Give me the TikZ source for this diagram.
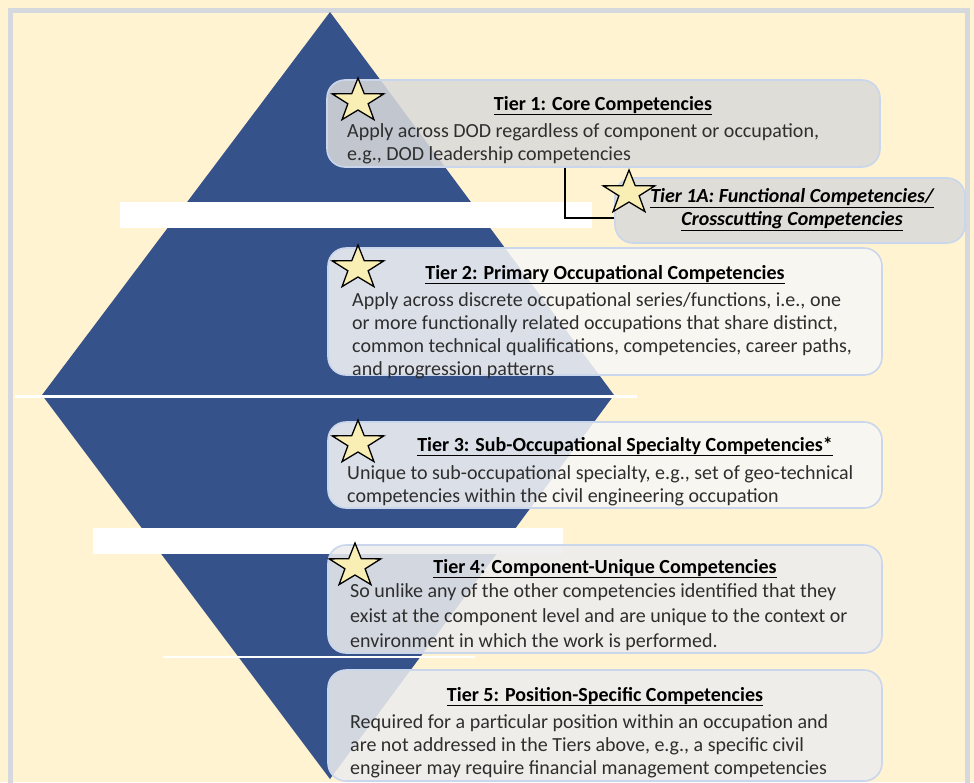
\documentclass[tikz,border=0pt]{standalone}
\usepackage{fontspec}
\setmainfont{Carlito}
\usetikzlibrary{shapes.geometric}

\definecolor{cream}{HTML}{FFF3D2}
\definecolor{framegrey}{HTML}{D5D9DD}
\definecolor{pyramid}{HTML}{36528A}
\definecolor{boxedge}{HTML}{C9D6EC}
\definecolor{greybox}{HTML}{DADADA}
\definecolor{lightbox}{HTML}{F7F7F7}
\definecolor{midbox}{HTML}{EDEDED}
\definecolor{starfill}{HTML}{F9EEB3}
\definecolor{bodytext}{HTML}{2E2E2E}

\tikzset{
  tierbox/.style={draw=boxedge, line width=1.6pt, rounded corners=18pt,
    fill opacity=0.86, inner sep=0pt},
  tiertitle/.style={font=\fontsize{20}{23}\selectfont\bfseries, text=black,
    inner sep=0pt, anchor=base},
  tierbody/.style={font=\fontsize{20}{23}\selectfont, text=bodytext,
    align=left, inner sep=0pt, anchor=north west},
  tierstar/.style={star, star points=5, star point ratio=2.55,
    minimum size=46pt, inner sep=0pt, draw=black, line width=1.3pt,
    fill=starfill, transform shape},
  starspot/.style={xscale=1.18},
  whiteband/.style={fill=white},
  link/.style={draw=black, line width=1.3pt}
}

\begin{document}
\begin{tikzpicture}[x=1pt, y=-1pt]
  % page and frame
  \fill[cream] (0,0) rectangle (974,782);
  \useasboundingbox (0,0) rectangle (974,782);
  \draw[framegrey, line width=4.5pt] (10.5,800) -- (10.5,10.5) -- (967.5,10.5) -- (967.5,800);

  % the pyramid diamond
  \fill[pyramid] (330,12) -- (614,395) -- (330,779) -- (42,395) -- cycle;

  % white separators across the diamond
  \fill[whiteband] (120,202) rectangle (592,228);
  \fill[whiteband] (15,394.5) rectangle (637,397.5);
  \fill[whiteband] (93,528) rectangle (563,554);
  \fill[whiteband] (163,655.8) rectangle (475,658.4);

  % tier boxes
  \node[tierbox, fill=greybox, minimum width=553pt, minimum height=87pt] (t1) at (603.5,123.5) {};
  \node[tierbox, fill=greybox, minimum width=350pt, minimum height=65pt] (t1a) at (790,210.5) {};
  \node[tierbox, fill=lightbox, minimum width=554pt, minimum height=127pt] (t2) at (605,311.5) {};
  \node[tierbox, fill=lightbox, minimum width=554pt, minimum height=86pt] (t3) at (605,465) {};
  \node[tierbox, fill=midbox, minimum width=554pt, minimum height=108pt] (t4) at (605,599) {};
  \node[tierbox, fill=midbox, minimum width=554pt, minimum height=111pt] (t5) at (605,725.5) {};

  % Tier 1 to Tier 1A connector
  \coordinate (bend) at (565,218);
  \draw[link] (t1.south -| bend) -- (bend) -- (bend -| t1a.west);

  % stars, slightly widened
  \begin{scope}[shift={(358,101)}, starspot] \node[tierstar] (s1) {}; \end{scope}
  \begin{scope}[shift={(629,193)}, starspot] \node[tierstar] (s1a) {}; \end{scope}
  \begin{scope}[shift={(358,268)}, starspot] \node[tierstar] (s2) {}; \end{scope}
  \begin{scope}[shift={(358,443)}, starspot] \node[tierstar] (s3) {}; \end{scope}
  \begin{scope}[shift={(355,566)}, starspot] \node[tierstar] (s4) {}; \end{scope}

  % texts
  \node[tiertitle] (h1) at (603,110) {\underline{Tier 1: Core Competencies}};
  \node[tierbody] (b1) at (347,123) {Apply across DOD regardless of component or occupation,\\e.g., DOD leadership competencies};

  \node[tiertitle, font=\fontsize{20}{23}\selectfont\bfseries\itshape, align=center, anchor=north] (h1a) at (792,188)
    {\underline{Tier 1A: Functional Competencies/}\\\underline{Crosscutting Competencies}};

  \node[tiertitle] (h2) at (605,279) {\underline{Tier 2: Primary Occupational Competencies}};
  \node[tierbody] (b2) at (352,292) {Apply across discrete occupational series/functions, i.e., one\\or more functionally related occupations that share distinct,\\common technical qualifications, competencies, career paths,\\and progression patterns};

  \node[tiertitle] (h3) at (625,451) {\underline{Tier 3: Sub-Occupational Specialty Competencies*}};
  \node[tierbody] (b3) at (347,465) {Unique to sub-occupational specialty, e.g., set of geo-technical\\competencies within the civil engineering occupation};

  \node[tiertitle] (h4) at (605,573) {\underline{Tier 4: Component-Unique Competencies}};
  \node[tierbody, font=\fontsize{20}{25}\selectfont] (b4) at (350,583) {So unlike any of the other competencies identified that they\\exist at the component level and are unique to the context or\\environment in which the work is performed.};

  \node[tiertitle] (h5) at (605,701) {\underline{Tier 5: Position-Specific Competencies}};
  \node[tierbody] (b5) at (350,714) {Required for a particular position within an occupation and\\are not addressed in the Tiers above, e.g., a specific civil\\engineer may require financial management competencies};
\end{tikzpicture}
\end{document}
